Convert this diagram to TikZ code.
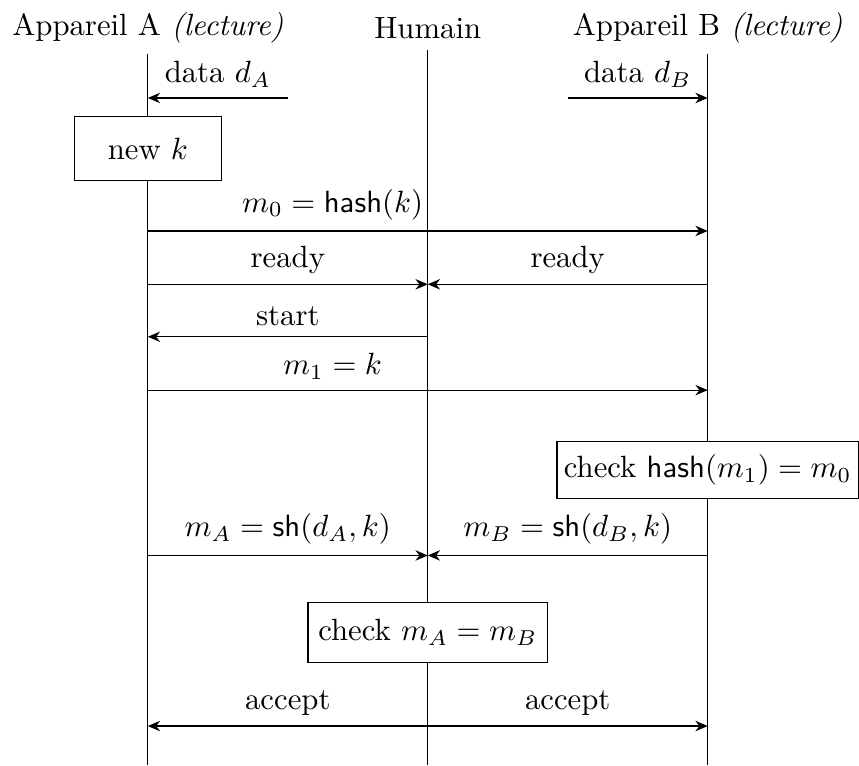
\documentclass[tikz,border=0pt]{standalone}
\usetikzlibrary{arrows.meta}
\begin{document}
\begin{tikzpicture}[>={Stealth[length=4pt, width=3.4pt]}]
        \useasboundingbox (-1.69, 0.32) rectangle (8.13, -8.43);
        % acteurs
        \node (A) at (0.0, 0.0) {Appareil A \textit{(lecture)}};
        \node (H) at (3.2, 0.0) {Humain};
        \node (B) at (6.4, 0.0) {Appareil B \textit{(lecture)}};
        % points sur les lignes de vie
        \foreach \n/\y in {d/-0.8, h/-2.32, r/-2.93, s/-3.53, m/-4.14, x/-6.03, c/-7.98, e/-8.43} {
          \coordinate (A\n) at (0.0, \y);
          \coordinate (H\n) at (3.2, \y);
          \coordinate (B\n) at (6.4, \y);
        }
        \coordinate (dA) at (1.6, -0.8);
        \coordinate (dB) at (4.8, -0.8);
        \draw (A.south) -- (Ae);
        \draw (H.south) -- (He);
        \draw (B.south) -- (Be);
        % messages
        \draw [->] (dA) -- node [above] {data $d_A$} (Ad);
        \draw [->] (dB) -- node [above] {data $d_B$} (Bd);
        \node [draw, fill=white, minimum width=1.68cm, minimum height=0.73cm] (newk) at (0.0, -1.38) {new $k$};
        \draw [->] (Ah) -- node [above, pos=0.33] {$m_0 = \textsf{hash}(k)$} (Bh);
        \draw [->] (Ar) -- node [above] {ready} (Hr);
        \draw [->] (Br) -- node [above] {ready} (Hr);
        \draw [->] (Hs) -- node [above] {start} (As);
        \draw [->] (Am) -- node [above, pos=0.33] {$m_1 = k$} (Bm);
        \node [draw, fill=white, inner xsep=2.2pt, minimum height=0.65cm] (chkh) at (6.4, -5.05) {check $\textsf{hash}(m_1) = m_0$};
        \draw [->] (Ax) -- node [above] {$m_A = \textsf{sh}(d_A, k)$} (Hx);
        \draw [->] (Bx) -- node [above] {$m_B = \textsf{sh}(d_B, k)$} (Hx);
        \node [draw, fill=white, minimum height=0.68cm] (chkm) at (3.2, -6.91) {check $m_A = m_B$};
        \draw [->] (Hc) -- node [above] {accept} (Ac);
        \draw [->] (Hc) -- node [above] {accept} (Bc);
      \end{tikzpicture}
\end{document}
